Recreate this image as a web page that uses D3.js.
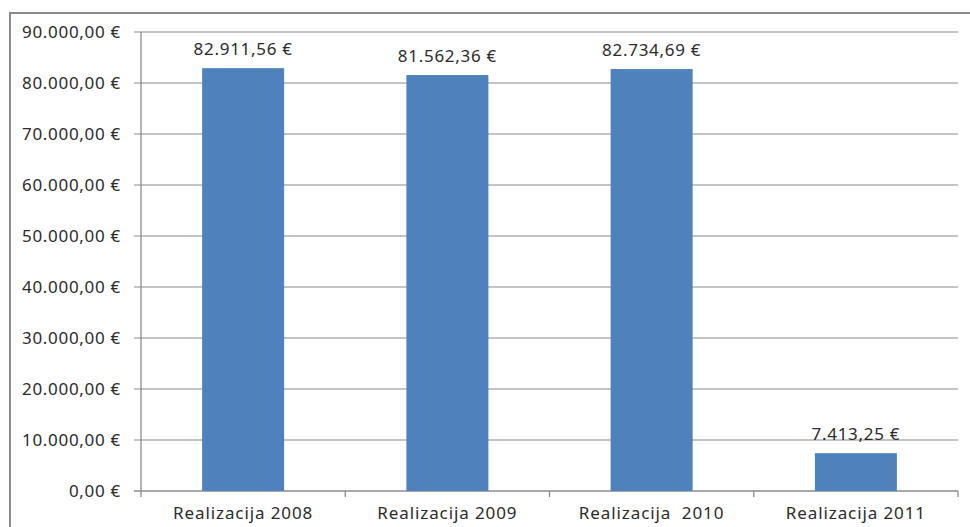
<!DOCTYPE html>
<html>
<head>
<meta charset="utf-8">
<script src="https://cdn.jsdelivr.net/npm/d3@7"></script>
<style>
  body { margin: 0; background: #fff; }
  text { font-family: "Noto Sans", sans-serif; fill: #2b2b2b; }
</style>
</head>
<body>
<script>
var categories = ["Realizacija 2008", "Realizacija 2009", "Realizacija  2010", "Realizacija 2011"];
var values = [82911.56, 81562.36, 82734.69, 7413.25];
var tickValues = [0, 10000, 20000, 30000, 40000, 50000, 60000, 70000, 80000, 90000];

var width = 970, height = 527;
var plotLeft = 141, plotRight = 958, plotTop = 32, plotBottom = 491;

// euro format like 82.911,56 €
var loc = d3.formatLocale({decimal: ",", thousands: ".", grouping: [3], currency: ["", " €"]});
var fmt = loc.format(",.2f");
function euro(v) { return fmt(v) + " €"; }

var svg = d3.select("body").append("svg")
  .attr("width", width)
  .attr("height", height);

// outer chart frame (cut off at right/bottom)
svg.append("rect")
  .attr("x", 10).attr("y", 13)
  .attr("width", 1000).attr("height", 600)
  .attr("fill", "none")
  .attr("stroke", "#8a8a8a")
  .attr("stroke-width", 2);

var x = d3.scaleBand().domain(categories).range([plotLeft, plotRight]).paddingInner(0).paddingOuter(0);
var y = d3.scaleLinear().domain([0, 90000]).range([plotBottom, plotTop]);

// gridlines
svg.append("g").selectAll("line")
  .data(tickValues)
  .enter().append("line")
  .attr("x1", plotLeft - 7).attr("x2", plotRight)
  .attr("y1", function (d) { return y(d); })
  .attr("y2", function (d) { return y(d); })
  .attr("stroke", function (d) { return d === 0 ? "#8c8c8c" : "#b0b0b0"; })
  .attr("stroke-width", 1.3);

// y axis line
svg.append("line")
  .attr("x1", plotLeft).attr("x2", plotLeft)
  .attr("y1", plotTop).attr("y2", plotBottom + 6)
  .attr("stroke", "#8c8c8c").attr("stroke-width", 1.3);

// category ticks
var bounds = categories.map(function (c) { return x(c); }).concat([plotRight]);
svg.append("g").selectAll("line")
  .data(bounds.slice(1))
  .enter().append("line")
  .attr("x1", function (d) { return d; }).attr("x2", function (d) { return d; })
  .attr("y1", plotBottom).attr("y2", plotBottom + 6)
  .attr("stroke", "#8c8c8c").attr("stroke-width", 1.3);

// y labels
svg.append("g").selectAll("text")
  .data(tickValues)
  .enter().append("text")
  .attr("x", 121)
  .attr("y", function (d) { return y(d) + 6; })
  .attr("text-anchor", "end")
  .style("font-size", "17px")
  .style("letter-spacing", "0.7px")
  .text(euro);

// bars
var barW = 82;
svg.append("g").selectAll("rect")
  .data(values)
  .enter().append("rect")
  .attr("x", function (d, i) { return x(categories[i]) + x.bandwidth() / 2 - barW / 2; })
  .attr("y", function (d) { return y(d); })
  .attr("width", barW)
  .attr("height", function (d) { return plotBottom - y(d); })
  .attr("fill", "#4f81bd");

// value labels
svg.append("g").selectAll("text")
  .data(values)
  .enter().append("text")
  .attr("x", function (d, i) { return x(categories[i]) + x.bandwidth() / 2; })
  .attr("y", function (d) { return y(d) - 13; })
  .attr("text-anchor", "middle")
  .style("font-size", "17px")
  .style("letter-spacing", "0.7px")
  .text(euro);

// category labels
svg.append("g").selectAll("text")
  .data(categories)
  .enter().append("text")
  .attr("x", function (d) { return x(d) + x.bandwidth() / 2; })
  .attr("y", 519)
  .attr("text-anchor", "middle")
  .style("font-size", "17px")
  .style("letter-spacing", "0.9px")
  .style("white-space", "pre")
  .text(function (d) { return d; });
</script>
</body>
</html>
